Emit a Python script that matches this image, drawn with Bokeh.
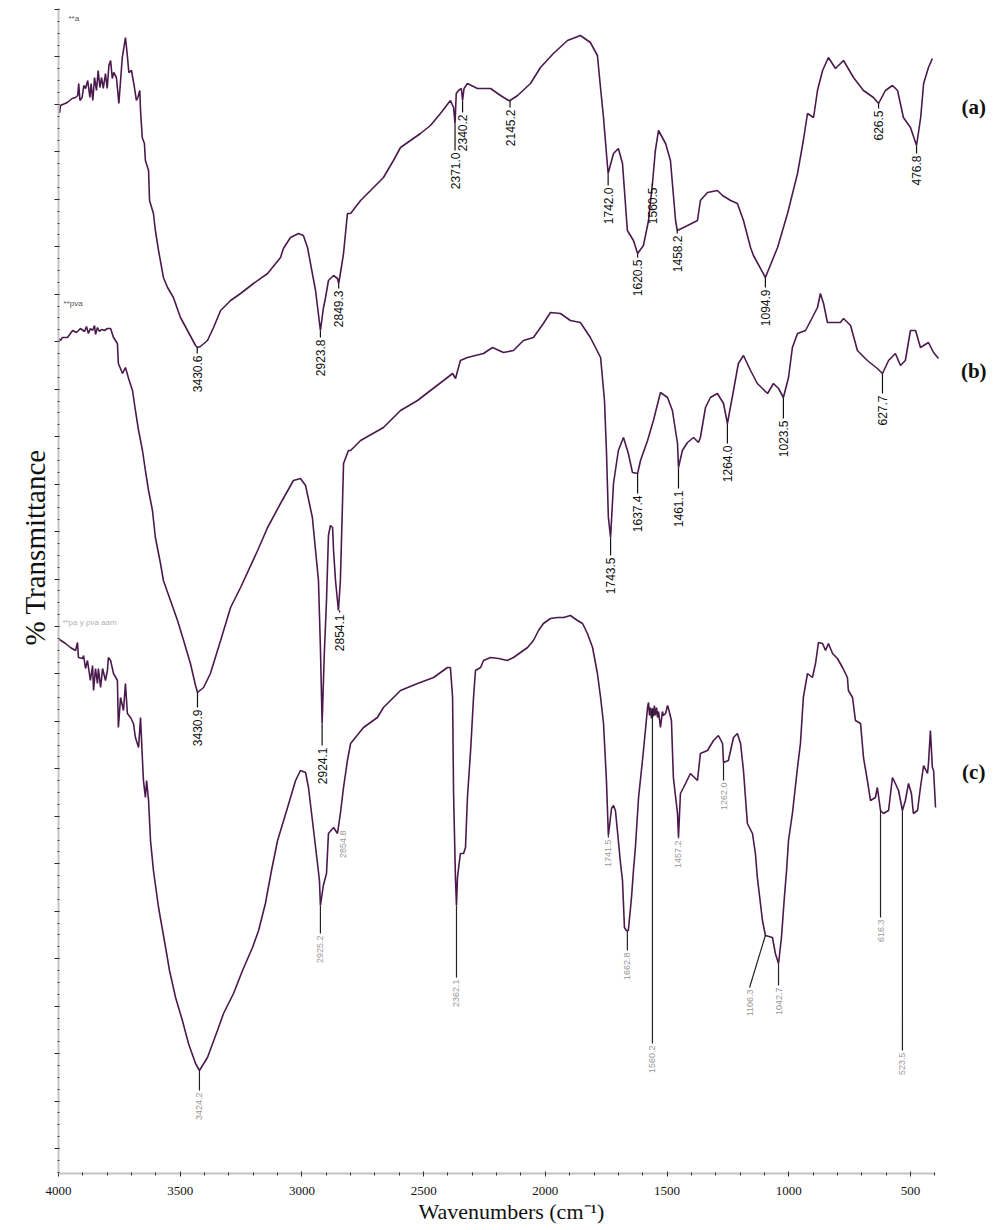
import numpy as np
from bokeh.plotting import figure
from bokeh.models import Range1d, FixedTicker, Label, Title, CustomJSTickFormatter
from bokeh.embed import file_html
from bokeh.resources import INLINE
from bokeh.core.properties import value

# ---------------- data (wavenumber cm-1, transmittance in arbitrary units) ----------------
wn_a = [4000,3995,3992,3964,3944,3930,3921,3917,3912,3903,3896,3889,3880,3871,3866,3859,3852,3844,3837,3830,
        3823,3816,3807,3800,3793,3786,3779,3773,3762,3752,3745,3738,3732,3725,3718,3711,3700,3693,3688,3680,
        3674,3666,3663,3656,3647,3643,3630,3626,3610,3602,3589,3569,3552,3528,3499,3470,3437,3430,3417,3388,
        3363,3334,3293,3252,3199,3141,3088,3076,3047,3014,2994,2977,2944,2930,2924,2912,2903,2891,2870,2854,
        2849,2842,2829,2813,2800,2759,2718,2665,2624,2595,2554,2513,2472,2431,2390,2377,2371,2366,2357,2345,
        2340,2334,2320,2279,2225,2184,2151,2145,2114,2061,2020,1967,1909,1856,1815,1786,1773,1761,1749,1742,
        1720,1700,1683,1663,1638,1621,1597,1576,1560,1548,1535,1506,1486,1465,1458,1432,1375,1363,1334,1293,
        1272,1239,1211,1186,1157,1145,1096,1046,1005,964,940,923,898,882,861,837,808,775,734,693,
        652,631,603,574,553,529,500,475,458,446,426,410]
tr_a = [1061,1061,1068,1071,1075,1076,1078,1090,1073,1076,1088,1085,1093,1076,1090,1073,1096,1083,1103,1086,
        1096,1085,1100,1085,1108,1113,1095,1101,1096,1070,1093,1116,1125,1136,1120,1101,1103,1093,1086,1073,
        1076,1083,1063,1036,1030,1013,1003,973,960,943,923,896,886,876,856,843,828,826,827,833,
        846,863,873,880,890,900,916,925,936,940,938,926,883,855,843,865,876,893,898,895,
        890,900,920,960,960,973,983,996,1013,1026,1033,1040,1048,1060,1073,1066,1050,1080,1083,1085,
        1073,1085,1090,1085,1085,1078,1073,1073,1078,1090,1106,1120,1133,1138,1131,1118,1085,1056,1020,1000,
        1020,1025,1010,943,933,920,928,953,990,1023,1043,1030,1013,953,943,946,953,973,981,983,
        978,973,970,953,926,918,896,926,960,1000,1033,1060,1056,1083,1103,1116,1105,1113,1096,1083,
        1076,1070,1083,1088,1083,1056,1046,1028,1056,1090,1106,1115]

wn_b = [4000,3992,3984,3963,3942,3926,3910,3893,3885,3877,3869,3860,3852,3848,3840,3832,3823,3811,3799,3786,
        3774,3758,3754,3737,3725,3712,3696,3684,3671,3655,3643,3630,3614,3602,3581,3569,3540,3511,3486,3458,
        3437,3429,3404,3376,3334,3293,3252,3182,3141,3088,3035,3006,2985,2957,2944,2932,2924,2917,2908,2899,
        2891,2883,2874,2870,2862,2850,2842,2833,2829,2809,2800,2759,2665,2595,2525,2472,2418,2381,2369,2349,
        2320,2254,2217,2172,2131,2090,2049,2008,1979,1938,1897,1856,1815,1773,1757,1749,1741,1732,1720,1700,
        1679,1659,1642,1621,1609,1580,1556,1527,1498,1478,1457,1453,1437,1416,1391,1371,1363,1342,1322,1293,
        1268,1252,1227,1207,1186,1157,1129,1087,1063,1042,1022,1001,985,964,931,903,882,870,857,841,
        788,775,746,718,677,636,615,590,562,541,521,500,479,459,426,405,385]
tr_b = [835,833,836,836,843,841,845,842,847,840,845,843,848,839,846,842,844,843,845,845,
        836,830,810,800,806,795,783,763,743,723,703,683,663,636,610,593,573,553,533,510,
        488,481,486,500,533,566,586,623,646,670,693,695,688,656,623,593,526,450,520,573,
        638,648,646,623,593,563,593,673,710,723,723,733,746,763,773,783,793,800,795,813,
        816,820,826,821,823,833,836,850,861,860,853,851,836,816,773,723,656,636,690,723,
        736,720,701,700,713,733,753,781,776,763,730,706,723,731,736,731,736,766,776,780,
        770,750,783,810,818,803,790,780,790,785,776,796,826,840,843,856,866,880,870,851,
        851,855,848,823,813,805,800,813,820,808,813,843,843,826,831,821,815]

wn_c = [4000,3996,3971,3951,3930,3922,3918,3901,3897,3889,3881,3869,3860,3856,3848,3840,3836,3827,3819,3807,
        3799,3795,3786,3774,3758,3754,3745,3733,3725,3717,3704,3692,3684,3671,3663,3655,3651,3643,3638,3630,
        3622,3610,3589,3560,3544,3519,3491,3466,3437,3421,3388,3347,3322,3281,3244,3203,3178,3150,3125,3100,
        3059,3026,3006,2985,2973,2952,2936,2928,2924,2912,2899,2891,2870,2854,2842,2829,2813,2800,2747,2690,
        2665,2595,2525,2459,2402,2390,2381,2377,2369,2365,2361,2349,2336,2328,2320,2307,2295,2287,2266,2254,
        2225,2192,2156,2131,2102,2073,2049,2028,2008,1979,1950,1925,1897,1868,1847,1827,1806,1786,1773,1761,
        1749,1741,1728,1720,1712,1704,1691,1683,1675,1667,1659,1646,1638,1630,1617,1601,1589,1580,1576,1572,
        1568,1564,1560,1556,1552,1548,1543,1539,1535,1527,1519,1515,1506,1498,1494,1486,1482,1474,1457,1453,
        1445,1432,1404,1375,1363,1334,1309,1289,1272,1268,1248,1227,1211,1198,1186,1170,1149,1137,1129,1108,
        1096,1067,1055,1042,1030,1018,1009,1001,985,964,952,940,923,903,890,878,861,849,837,820,
        800,779,759,755,738,726,705,693,677,664,644,636,623,611,590,574,562,549,533,521,
        508,496,488,471,459,446,430,426,418,410,405,397]
tr_c = [536,534,530,526,523,531,516,515,518,505,513,493,508,483,505,490,505,486,505,493,
        503,516,513,500,493,446,476,463,490,460,456,450,436,426,456,413,393,376,393,373,
        333,303,266,226,203,176,153,130,110,103,116,143,160,180,203,226,243,270,303,333,
        366,393,403,401,386,343,310,293,268,288,300,340,346,340,360,386,413,430,446,456,
        466,483,490,496,506,506,476,380,293,268,296,320,320,326,376,423,476,503,506,513,
        516,515,513,516,521,526,533,543,550,555,556,556,558,553,550,540,526,500,476,450,
        393,338,365,368,363,343,310,293,246,243,243,276,303,326,376,413,443,466,471,458,
        466,455,465,457,468,458,466,456,462,446,462,458,460,468,465,457,453,396,360,336,
        380,386,400,393,420,423,433,438,430,411,413,436,440,430,403,350,340,320,296,253,
        238,236,220,210,236,276,303,333,360,406,430,476,500,496,510,531,530,523,530,520,
        515,506,496,483,476,453,450,416,393,373,376,386,363,360,363,396,390,383,363,373,
        390,380,360,363,386,408,400,410,443,406,403,366]

# peak annotations: text, x, curve tip y, end of tick line y
lab_a_text = ["3430.6", "2923.8", "2849.3", "2371.0", "2340.2", "2145.2", "1742.0", "1620.5",
              "1560.5", "1458.2", "1094.9", "626.5", "476.8"]
lab_a_x = [3430, 2924, 2849, 2371, 2340, 2145, 1742, 1621, 1560, 1458, 1096, 631, 475]
lab_a_tip = [826, 843, 890, 1050, 1073, 1073, 1000, 920, 990, 943, 896, 1070, 1028]
lab_a_end = [820, 836, 885, 1023, 1061, 1066, 988, 916, 988, 940, 886, 1065, 1020]

lab_b_text = ["3430.9", "2924.1", "2854.1", "1743.5", "1637.4", "1461.1", "1264.0", "1023.5", "627.7"]
lab_b_x = [3429, 2917, 2845, 1732, 1621, 1453, 1252, 1022, 615]
lab_b_tip = [481, 450, 563, 636, 700, 706, 750, 776, 800]
lab_b_end = [466, 428, 561, 618, 680, 685, 730, 755, 780]

lab_c_text = ["3424.2", "2925.2", "2854.8", "2362.1", "1741.5", "1662.8", "1560.2", "1457.2",
              "1262.0", "1106.3", "1042.7", "616.3", "523.5"]
lab_c_tipx = [3421, 2924, 2833, 2365, 1741, 1663, 1560, 1453, 1268, 1096, 1042, 623, 533]
lab_c_x = [3421, 2924, 2833, 2365, 1741, 1663, 1560, 1453, 1268, 1161, 1042, 623, 533]
lab_c_tip = [103, 268, 345, 268, 338, 243, 465, 336, 411, 238, 210, 363, 363]
lab_c_end = [83, 240, 345, 196, 336, 223, 130, 335, 393, 186, 188, 256, 123]

x_major = [4000, 3500, 3000, 2500, 2000, 1500, 1000, 500]
x_minor = list(range(4000, 399, -100))
y_major = [1164 - 47.46 * k for k in range(25)]
y_minor = [1164 - 11.865 * k for k in range(99)]

# ---------------- figure ----------------
p = figure(width=1001, height=1230, output_backend="svg", toolbar_location=None,
           x_range=Range1d(4000, 126), y_range=Range1d(0, 1165),
           min_border_left=58, min_border_right=0, min_border_top=8, min_border_bottom=57)
p.outline_line_color = None
p.grid.visible = False
p.background_fill_color = "white"
p.border_fill_color = "white"

p.xaxis.bounds = (397, 4000)
p.xaxis.ticker = FixedTicker(ticks=x_major, minor_ticks=x_minor)
p.xaxis.axis_line_color = "#c4c4c4"
p.xaxis.axis_line_width = 2
p.xaxis.major_tick_line_color = "#222222"
p.xaxis.minor_tick_line_color = "#333333"
p.xaxis.major_tick_in = 2
p.xaxis.major_tick_out = 3
p.xaxis.minor_tick_in = 1
p.xaxis.minor_tick_out = 2
p.xaxis.major_label_standoff = 10
p.xaxis.major_label_text_font = "Liberation Serif"
p.xaxis.major_label_text_font_size = "13px"
p.xaxis.major_label_text_color = "#111111"

p.yaxis.bounds = (0, 1165)
p.yaxis.ticker = FixedTicker(ticks=y_major, minor_ticks=y_minor)
p.yaxis.formatter = CustomJSTickFormatter(code="return ''")
p.yaxis.axis_line_color = "#c4c4c4"
p.yaxis.axis_line_width = 2
p.yaxis.major_tick_line_color = "#222222"
p.yaxis.minor_tick_line_color = "#444444"
p.yaxis.major_tick_in = 1
p.yaxis.major_tick_out = 4
p.yaxis.minor_tick_in = 1
p.yaxis.minor_tick_out = 1
p.yaxis.major_label_standoff = 0

curve_color = "#4b1a4d"
for wn, tr in ((wn_a, tr_a), (wn_b, tr_b), (wn_c, tr_c)):
    p.line(wn, tr, line_color=curve_color, line_width=1.6)

# tick lines of peak labels
p.segment(x0=lab_a_x, y0=lab_a_tip, x1=lab_a_x, y1=lab_a_end, line_color="#111111", line_width=1.2)
p.segment(x0=lab_b_x, y0=lab_b_tip, x1=lab_b_x, y1=lab_b_end, line_color="#111111", line_width=1.2)
p.segment(x0=lab_c_tipx, y0=lab_c_tip, x1=lab_c_x, y1=lab_c_end, line_color="#222222", line_width=1.2)

p.text(x=lab_a_x, y=[e - 2 for e in lab_a_end], text=lab_a_text, angle=np.pi / 2,
       text_align="right", text_baseline="middle", text_font=value("Liberation Sans"),
       text_font_size="12px", text_color="#111111")
p.text(x=lab_b_x, y=[e - 2 for e in lab_b_end], text=lab_b_text, angle=np.pi / 2,
       text_align="right", text_baseline="middle", text_font=value("Liberation Sans"),
       text_font_size="12px", text_color="#111111")
p.text(x=lab_c_x, y=[e - 2 for e in lab_c_end], text=lab_c_text, angle=np.pi / 2,
       text_align="right", text_baseline="middle", text_font=value("Liberation Sans"),
       text_font_size="9px", text_color="#9a9a9a")

# sample names (tiny) at the top-left of each trace
for txt, x, y, col in (("**a", 3959, 1155, "#555555"), ("**pva", 3979, 870, "#555555"),
                       ("**pa y pva aam", 3984, 551, "#b0b0b0")):
    p.add_layout(Label(x=x, y=y, text=txt, text_font="Liberation Sans", text_font_size="8px",
                       text_color=col, text_baseline="middle", text_align="left"))

for txt, y in (("(a)", 1067), ("(b)", 803), ("(c)", 402)):
    p.add_layout(Label(x=240, y=y, text=txt, text_font="Liberation Serif", text_font_style="bold",
                       text_font_size="21px", text_color="#111111", text_align="center",
                       text_baseline="middle"))

# axis titles (positioned as in the reference, not centred on the frame)
p.add_layout(Title(text="% Transmittance", align="left", offset=528, vertical_align="middle",
                   standoff=6, text_font="Liberation Serif", text_font_size="29px",
                   text_font_style="normal", text_color="#111111"), "left")
p.add_layout(Title(text="Wavenumbers (cm\u207b\u00b9)", align="left", offset=360, vertical_align="middle",
                   standoff=0, text_font="Liberation Serif", text_font_size="22px",
                   text_font_style="normal", text_color="#111111"), "below")

open("out.html", "w").write(file_html(p, INLINE))
